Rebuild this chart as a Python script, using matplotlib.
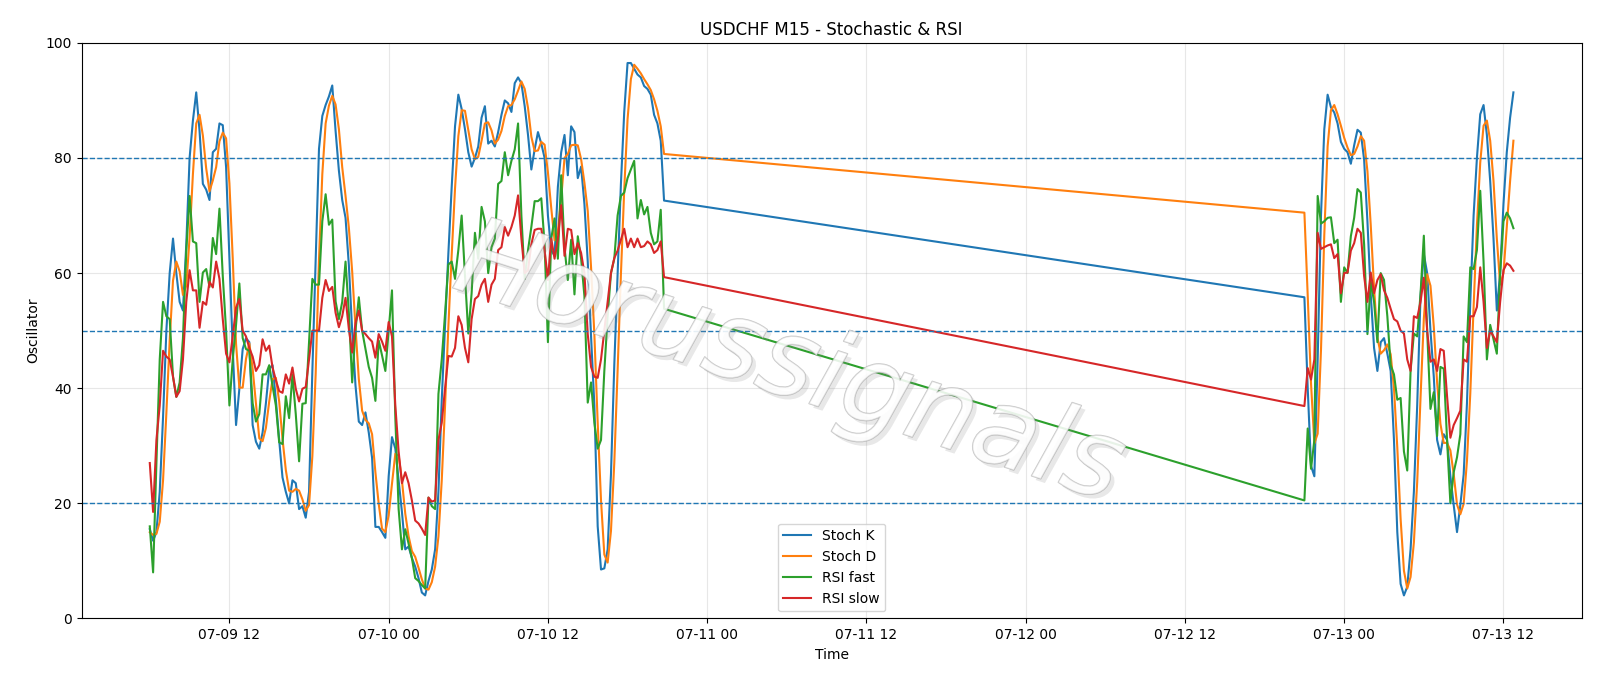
import matplotlib
matplotlib.use("Agg")
import matplotlib.pyplot as plt
import matplotlib.dates as mdates
import matplotlib.patheffects as pe
import pandas as pd

# two trading blocks of M15 bars, the weekend gap is just joined by the line
start_1 = "2025-07-09 06:00"
start_2 = "2025-07-12 21:00"

stoch_k_1 = [15.5, 13.5, 15, 22, 35, 50, 60, 66, 60, 55, 53.5, 65, 80, 86.5, 91.4, 84.7, 75.5, 74.5, 72.7, 81,
             81.6, 86, 85.7, 78.4, 62.6, 46.8, 33.6, 39.9, 46.8, 48.7, 48, 33.6, 30.7, 29.5, 32.3, 37.4, 43.4, 44, 38, 31,
             24.5, 22, 20, 24, 23.5, 19, 19.5, 17.5, 22, 43, 62.6, 81.6, 87.3, 89.2, 90.7, 92.6, 84.7, 77.8, 72.7, 69.6,
             61.4, 50, 40.5, 34.2, 33.6, 35.8, 32.3, 27.9, 15.9, 15.9, 15, 14, 24.7, 31.5, 29.5, 24, 18.5, 12, 12.5, 10.5,
             9, 7, 4.5, 4, 6.5, 8.5, 12, 22, 38, 51, 63.5, 75, 85.5, 91, 88.5, 85, 81, 78.5, 80, 82,
             87, 89, 82.5, 83, 82, 84.5, 87.5, 90, 89.5, 88, 93, 94, 93, 89, 84, 78, 81.5, 84.5, 82.5, 80,
             70, 64, 63, 75, 81, 84, 77, 85.5, 84.5, 76.5, 78.5, 72, 62, 49, 37, 16, 8.5, 8.7, 12, 25,
             44, 60, 75.5, 88, 96.5, 96.5, 95.5, 94.5, 94, 92.5, 92, 91, 87.5, 86, 83, 72.6]
stoch_d_1 = [15, 14.5, 14.7, 16.8, 24, 35.7, 48.3, 58.7, 62, 60.3, 56.2, 57.8, 66.2, 77.2, 86, 87.5, 83.9, 78.2, 74.2, 76.1,
             78.4, 82.9, 84.4, 83.4, 75.6, 62.6, 47.7, 40.1, 40.1, 45.1, 47.8, 43.4, 37.4, 31.3, 30.8, 33.1, 37.7, 41.6, 41.8, 37.7,
             31.2, 25.8, 22.2, 22, 22.5, 22.2, 20.7, 18.7, 19.7, 28.2, 42.5, 62.4, 77.2, 86, 89.1, 90.8, 89.3, 85, 78.4, 73.4,
             67.9, 60.3, 50.6, 41.6, 36.1, 34.5, 33.9, 32, 25.4, 19.9, 15.6, 15, 17.9, 23.4, 28.6, 28.3, 24, 18.2, 14.3, 11.7,
             10.7, 8.8, 6.8, 5.2, 5, 6.3, 9, 14.2, 24, 37, 50.8, 63.2, 74.7, 83.8, 88.3, 88.2, 84.8, 81.5, 79.8, 80.2,
             83, 86, 86.2, 84.8, 82.5, 83.2, 84.7, 87.3, 89, 89.2, 90.2, 91.7, 93.3, 92, 88.7, 83.7, 81.2, 81.3, 82.8, 82.3,
             77.5, 71.3, 65.7, 67.3, 73, 80, 80.7, 82.2, 82.3, 82.2, 79.8, 75.7, 70.8, 61, 49.3, 34, 20.5, 11.1, 9.7, 15.2,
             27, 43, 59.8, 74.5, 86.7, 93.7, 96.2, 95.5, 94.7, 93.7, 92.8, 91.8, 90.2, 88.2, 85.5, 80.7]
rsi_fast_1 = [16, 8, 27, 45, 55, 52.5, 52, 42, 38.5, 41, 48.7, 63.9, 73.4, 65.5, 65.2, 55, 60.1, 60.7, 57.6, 66.1,
              63.3, 71.2, 59.5, 50, 37, 45, 51, 58.2, 48.7, 46.8, 46.5, 37.4, 34.2, 35.5, 42.4, 42.4, 44, 40.4, 37, 30.6,
              30.3, 38.6, 34.8, 42.3, 35.5, 27.3, 37.3, 37.4, 48, 59, 58, 58, 69, 73.7, 68.4, 69.3, 55.1, 52, 55, 62,
              53.1, 41, 50.1, 55.8, 50, 46.8, 43.7, 41.8, 37.8, 48.3, 45.7, 43, 50, 57, 35, 19, 12, 15.5, 13, 10.5,
              7, 6.5, 5.8, 5.2, 21, 19.5, 19, 39, 45, 53, 61.5, 62, 59, 64, 70, 59.5, 49.5, 56.5, 67, 62.5,
              71.5, 69, 60, 64.5, 66, 75.5, 76, 81, 77, 79.5, 81.5, 86, 70, 59, 64, 68, 72.5, 72.5, 73, 65,
              48, 66, 69.5, 62.5, 77, 64.5, 58.8, 65.8, 56.3, 66.4, 62.5, 56, 37.5, 41, 34, 29.5, 31, 43, 52.5, 60,
              62.5, 70, 73.4, 74, 76.5, 78, 79.5, 69.5, 72.7, 70.2, 71.5, 67, 65, 65.5, 71, 53.8]
rsi_slow_1 = [27, 18.5, 31, 37, 46.5, 45.5, 45, 42, 38.5, 39.5, 45, 55, 60.5, 57, 57, 50.5, 55, 54.5, 58.5, 57.5,
              62, 59, 52, 46, 44.5, 49, 54, 55.5, 50, 49, 47, 45.5, 43, 44, 48.5, 46.5, 47.4, 43.6, 41.4, 39.5,
              39.2, 42.4, 40.8, 43.6, 39.9, 37.7, 39.9, 40.2, 45, 50, 50, 50, 55.7, 58.8, 56.9, 57.6, 53.1, 50.6, 52.5, 55.7,
              50.3, 46.2, 51.3, 53.5, 50, 49.4, 48.7, 48.1, 45.3, 49.4, 48.1, 46.5, 51.5, 49, 37, 29, 23.5, 25.4, 23.5, 20.5,
              17, 16.5, 15.6, 14.5, 21, 20.3, 20.5, 31, 34, 40, 45.6, 45.5, 47, 52.5, 51, 47, 44.5, 52, 55.5, 56,
              58, 59, 55, 58, 59, 64, 64.5, 68, 66.5, 68, 70, 73.5, 66, 60, 60.5, 65, 67.5, 67.7, 67.7, 64,
              58.8, 66, 62.5, 66, 71.8, 63, 67.7, 67.5, 63.3, 65.2, 63.5, 60, 49.4, 43.7, 42, 41.8, 45, 50, 55, 60,
              62.6, 63.9, 65.8, 67.7, 64.5, 66, 64.5, 66, 64.5, 64.7, 65.5, 65, 63.5, 64, 65.5, 59.3]

stoch_k_2 = [55.8, 40, 26.5, 24.7, 45, 70, 85, 91, 88.8, 87.9, 86, 82.8, 81.6, 81, 79, 82.2, 84.9, 84.4, 79.7, 69,
             56.3, 47, 43, 48, 48.7, 46, 43, 31, 15, 6, 4, 5.5, 12, 22, 37, 56, 63.3, 60, 50, 42,
             31, 28.5, 32, 31, 24.7, 19.7, 15, 19.7, 25, 37.4, 55, 70, 80, 87.6, 89.2, 84, 76, 66, 53.5, 60,
             72, 81, 87, 91.4]
stoch_d_2 = [70.5, 56.1, 40.8, 30.4, 32.1, 46.6, 66.7, 82, 88.3, 89.2, 87.6, 85.6, 83.5, 81.8, 80.5, 80.7, 82, 83.8, 83, 77.7,
             68.3, 57.4, 48.8, 46, 46.6, 47.6, 45.9, 40, 29.7, 17.3, 8.3, 5.2, 7.2, 13.2, 23.7, 38.3, 52.1, 59.8, 57.8, 50.7,
             41, 33.8, 30.5, 30.5, 29.2, 25.1, 19.8, 18.1, 19.9, 27.4, 39.1, 54.1, 68.3, 79.2, 85.6, 86.5, 83, 76, 66, 58,
             60, 68, 76, 83]
rsi_fast_2 = [20.5, 33, 26, 31, 73.4, 68.6, 69, 69.6, 69.7, 65.2, 65.8, 55, 61, 60, 66.4, 69.6, 74.6, 74, 65, 49.4,
              58.5, 55, 48, 60, 58.8, 52.5, 44, 42.4, 38, 38.3, 29, 25.7, 43, 49.5, 49, 56.3, 66.5, 50, 36.4, 39.3,
              31.7, 43.7, 43.4, 31, 20, 25.4, 28, 32, 49, 48, 61, 60.7, 64, 74.3, 62, 45, 51, 48.5, 46, 60,
              69, 70.5, 69.5, 67.8]
rsi_slow_2 = [36.9, 43.5, 41.5, 45, 67, 64.2, 64.5, 64.8, 65, 62.6, 63.3, 56.5, 60, 60.1, 63.9, 65.2, 67.7, 67, 59.5, 55,
              60.1, 56.5, 58.8, 59.8, 57, 55.7, 53.8, 52, 51.6, 50, 49.5, 45, 43, 52.5, 52.2, 55, 59.2, 50, 44.6, 45,
              43, 46.8, 46.5, 38.6, 31.4, 33.6, 34.8, 36.1, 45, 44.6, 52.5, 52.5, 54.1, 61, 55, 47, 50, 49, 48, 55,
              60.5, 61.7, 61.3, 60.4]

levels = [80, 50, 20]

times = pd.date_range(start_1, periods=len(stoch_k_1), freq="15min").append(
    pd.date_range(start_2, periods=len(stoch_k_2), freq="15min"))

fig = plt.figure(figsize=(16, 6.86), dpi=100)
ax = fig.add_subplot(111)
fig.subplots_adjust(left=0.051, right=0.9885, top=0.9375, bottom=0.0985)

ax.plot(times, stoch_k_1 + stoch_k_2, label="Stoch K")
ax.plot(times, stoch_d_1 + stoch_d_2, label="Stoch D")
ax.plot(times, rsi_fast_1 + rsi_fast_2, label="RSI fast")
ax.plot(times, rsi_slow_1 + rsi_slow_2, label="RSI slow")
for lvl in levels:
    ax.axhline(lvl, linestyle="--", linewidth=1)

ax.set_ylim(0, 100)
ax.xaxis.set_major_locator(mdates.HourLocator(byhour=[0, 12]))
ax.xaxis.set_major_formatter(mdates.DateFormatter("%m-%d %H"))
ax.grid(True, alpha=0.3)
ax.set_title("USDCHF M15 - Stochastic & RSI")
ax.set_xlabel("Time")
ax.set_ylabel("Oscillator")
ax.legend(loc="lower center")

# watermark
ax.text(0.472, 0.44, "Horussignals", transform=ax.transAxes, fontsize=78,
        rotation=-18, ha="center", va="center", color=(1, 1, 1, 0.5), zorder=5,
        fontweight="light", fontstyle="italic",
        path_effects=[pe.withSimplePatchShadow(offset=(3, -3), shadow_rgbFace=(0.55, 0.55, 0.55), alpha=0.2),
                      pe.Stroke(linewidth=1.0, foreground=(0.6, 0.6, 0.6, 0.55)),
                      pe.Normal()])

fig.savefig("out.png", dpi=100)
